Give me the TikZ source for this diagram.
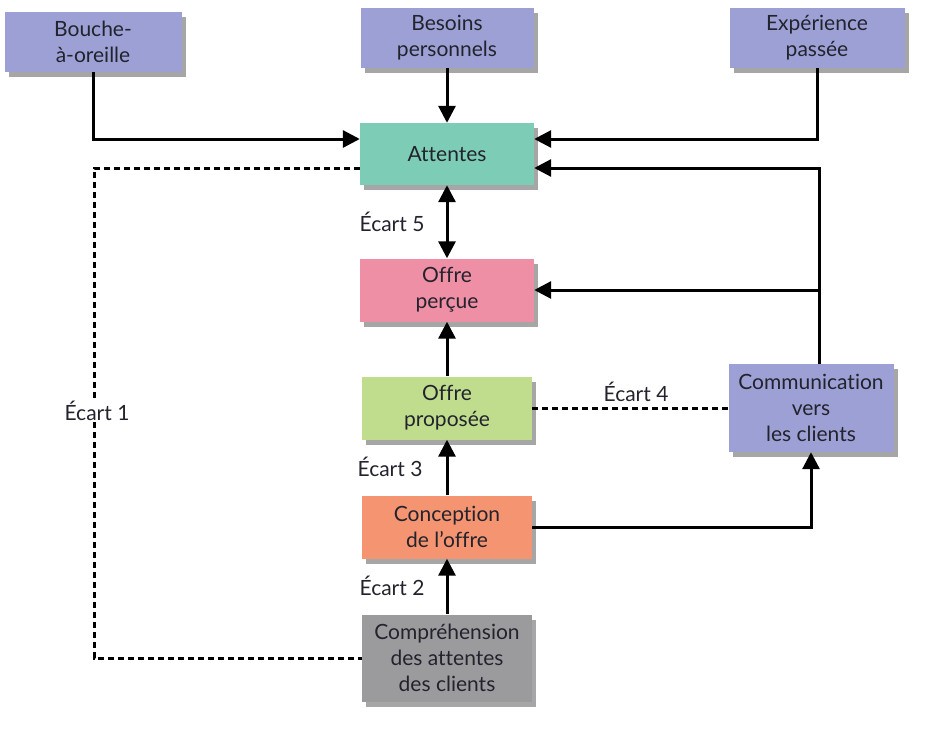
\documentclass[tikz,border=0pt]{standalone}
\usepackage{fontspec}
\setmainfont[Ligatures=NoCommon]{Lato}
\usetikzlibrary{arrows.meta,shadows}
\definecolor{lav}{RGB}{156,160,212}
\definecolor{teal}{RGB}{125,205,182}
\definecolor{pinkb}{RGB}{238,143,165}
\definecolor{greenb}{RGB}{192,221,142}
\definecolor{salmon}{RGB}{244,148,112}
\definecolor{grayb}{RGB}{155,155,158}
\definecolor{txt}{RGB}{35,35,45}
\tikzset{
  tri/.tip={Triangle[length=17pt,width=17pt]},
  box/.style={align=center, font=\fontsize{21}{26}\selectfont, text=txt, inner sep=2pt,
    drop shadow={shadow xshift=4pt, shadow yshift=-5pt, fill=black, opacity=0.35}},
  arr/.style={line width=3pt, -tri},
  darr/.style={line width=3pt, tri-tri},
  dline/.style={line width=3pt, dash pattern=on 6pt off 4pt},
  lbl/.style={font=\fontsize{21}{26}\selectfont, text=txt, inner sep=1pt}
}
\begin{document}
\begin{tikzpicture}[x=1pt,y=1pt]
\useasboundingbox (0,0) rectangle (929,-744);
% boxes
\node[box, fill=lav, minimum width=177, minimum height=60] (bouche) at (93,-42) {Bouche-\\à-oreille};
\node[box, fill=lav, minimum width=173, minimum height=60] (besoins) at (447,-38) {Besoins\\personnels};
\node[box, fill=lav, minimum width=175, minimum height=60] (exp) at (817,-38) {Expérience\\passée};
\node[box, fill=teal, minimum width=174, minimum height=62] (attentes) at (447,-154) {Attentes};
\node[box, fill=pinkb, minimum width=174, minimum height=63] (percue) at (447,-290) {Offre\\perçue};
\node[box, fill=greenb, minimum width=170, minimum height=63] (proposee) at (447,-408) {Offre\\proposée};
\node[box, fill=lav, minimum width=165, minimum height=88] (comm) at (811,-408) {Communication\\vers\\les clients};
\node[box, fill=salmon, minimum width=170, minimum height=63] (conception) at (447,-527) {Conception\\de l’offre};
\node[box, fill=grayb, minimum width=170, minimum height=87] (compr) at (447,-658) {Compréhension\\des attentes\\des clients};
% solid connectors
\draw[arr] (besoins) -- (attentes);
\draw[arr] (bouche.south) |- ([yshift=15]attentes.west);
\draw[arr] (exp.south) |- ([yshift=15]attentes.east);
\coordinate (cup) at ([xshift=8]comm.north);
\draw[arr] (cup) |- ([yshift=-14]attentes.east);
\draw[arr] (cup) |- (percue.east);
\draw[darr] (attentes) -- (percue);
\draw[arr] (proposee) -- (percue);
\draw[arr] (conception) -- (proposee);
\draw[arr] (compr) -- (conception);
\draw[arr] (conception.east) -| (comm.south);
% dashed connectors
\coordinate (dl) at (94,-658);
\draw[dline] ([yshift=-14]attentes.west) -| (dl) -- (compr.west);
\draw[dline] (proposee.east) -- (comm.west);
% labels
\node[lbl, fill=white] (e1) at (97,-411) {Écart 1};
\node[lbl] (e2) at (392,-586) {Écart 2};
\node[lbl] (e3) at (390,-467) {Écart 3};
\node[lbl] (e4) at (636,-392) {Écart 4};
\node[lbl] (e5) at (392,-222) {Écart 5};
\end{tikzpicture}
\end{document}
